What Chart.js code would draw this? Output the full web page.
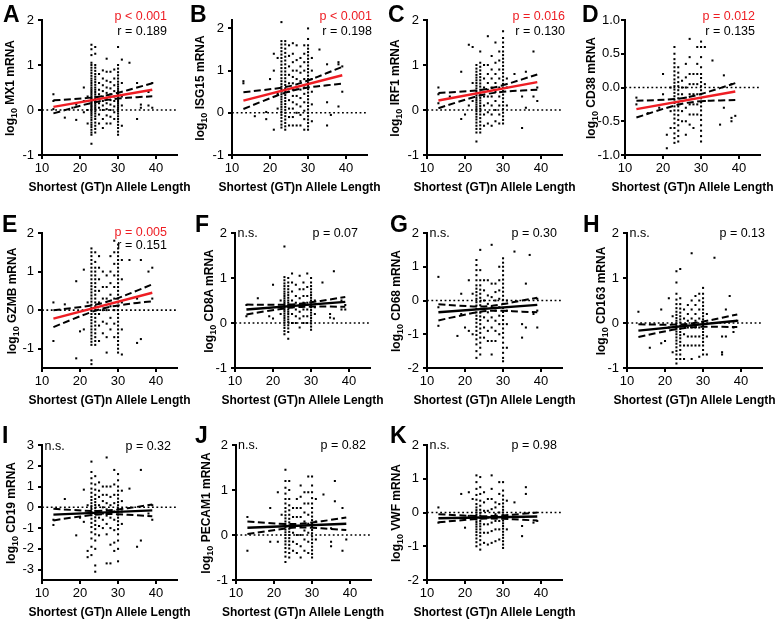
<!DOCTYPE html>
<html><head><meta charset="utf-8">
<script src="https://cdn.jsdelivr.net/npm/chart.js@4"></script>
<style>
html,body{margin:0;padding:0;background:#fff}
body{width:778px;height:621px;position:relative;overflow:hidden;font-family:"Liberation Sans",Arial,sans-serif;color:#000}
.t{position:absolute;white-space:nowrap;line-height:1}
</style></head><body>
<script>
// ---------- DATA ----------
const panelIds = ['A','B','C','D','E','F','G','H','I','J','K'];
const genes = ['MX1','ISG15','IRF1','CD38','GZMB','CD8A','CD68','CD163','CD19','PECAM1','VWF'];
const pLabels = ['p < 0.001','p < 0.001','p = 0.016','p = 0.012','p = 0.005','p = 0.07','p = 0.30','p = 0.13','p = 0.32','p = 0.82','p = 0.98'];
const rLabels = ['r = 0.189','r = 0.198','r = 0.130','r = 0.135','r = 0.151',null,null,null,null,null,null];
const xTicks = [10,20,30,40];
const yRanges = [[-1,2],[-1,2.2],[-1,2],[-1,1],[-1.5,2],[-1,2],[-2,2],[-1,2],[-3.5,3],[-1,2],[-2,2]];
const yTickVals = [[-1,0,1,2],[-1,0,1,2],[-1,0,1,2],[-1,-0.5,0,0.5,1],[-1,0,1,2],[-1,0,1,2],[-2,-1,0,1,2],[-1,0,1,2],[-3,-2,-1,0,1,2,3],[-1,0,1,2],[-2,-1,0,1,2]];

// regression line ends (x = 13 and 39) and 95% CI bands
const fitX = [13,39];
const ciX = [13,18,23,26,30,35,39];
const fitA=[0.07,0.45],  upA=[0.215,0.241,0.275,0.31,0.383,0.499,0.595],   loA=[-0.075,0.045,0.157,0.21,0.253,0.285,0.305];
const fitB=[0.29,0.89],  upB=[0.49,0.537,0.595,0.65,0.766,0.943,1.09],     loB=[0.09,0.273,0.447,0.53,0.598,0.653,0.69];
const fitC=[0.21,0.62],  upC=[0.38,0.402,0.434,0.47,0.552,0.681,0.79],     loC=[0.04,0.176,0.302,0.36,0.404,0.433,0.45];
const fitD=[-0.32,-0.06],upD=[-0.195,-0.187,-0.172,-0.15,-0.096,-0.009,0.065], loD=[-0.445,-0.353,-0.268,-0.23,-0.204,-0.191,-0.185];
const fitE=[-0.22,0.45], upE=[0.0,0.055,0.123,0.185,0.313,0.507,0.67],     loE=[-0.44,-0.237,-0.047,0.045,0.123,0.187,0.23];
const fitF=[0.30,0.47],  upF=[0.41,0.406,0.408,0.42,0.459,0.524,0.58],     loF=[0.19,0.26,0.323,0.35,0.364,0.364,0.36];
const fitG=[-0.35,-0.13],upG=[-0.11,-0.15,-0.177,-0.17,-0.107,0.0,0.08],   loG=[-0.59,-0.466,-0.353,-0.31,-0.306,-0.33,-0.35];
const fitH=[-0.17,0.05], upH=[-0.03,-0.036,-0.034,-0.02,0.032,0.117,0.19], loH=[-0.31,-0.22,-0.136,-0.10,-0.084,-0.085,-0.09];
const fitI=[-0.35,-0.15],upI=[-0.07,-0.128,-0.172,-0.17,-0.104,0.021,0.13],loI=[-0.63,-0.496,-0.374,-0.33,-0.334,-0.383,-0.43];
const fitJ=[0.16,0.25],  upJ=[0.30,0.269,0.246,0.245,0.277,0.337,0.39],    loJ=[0.02,0.085,0.144,0.165,0.162,0.135,0.11];
const fitK=[-0.17,-0.12],upK=[-0.05,-0.081,-0.107,-0.11,-0.087,-0.04,0.0], loK=[-0.29,-0.239,-0.195,-0.18,-0.187,-0.214,-0.24];

// scatter points: [allele length, [log10 mRNA values ...]]
const ptsA = [
 [13,[0.35,0.2,0.02]],[16,[-0.17]],[18,[0.05]],[19,[0.12,-0.22]],[21,[0.5,0.2,-0.05]],[22,[0.3,0.0,-0.3]],
 [23,[-0.75,-0.55,-0.5,-0.44,-0.38,-0.33,-0.28,-0.22,-0.17,-0.12,-0.08,-0.04,0,0.03,0.06,0.09,0.12,0.15,0.18,0.21,0.24,0.27,0.3,0.34,0.38,0.42,0.46,0.5,0.55,0.6,0.65,0.7,0.76,0.82,0.88,0.94,1.0,1.05,1.22,1.35,1.45]],
 [24,[-0.5,-0.42,-0.35,-0.28,-0.2,-0.14,-0.08,-0.03,0.02,0.06,0.1,0.14,0.18,0.22,0.26,0.3,0.35,0.4,0.45,0.5,0.56,0.62,0.68,0.74,0.8,0.87,0.94,1.0,1.25,1.4]],
 [25,[-0.3,-0.1,0.05,0.15,0.25,0.35,0.45,0.6,0.8]],
 [26,[-0.4,-0.2,0,0.1,0.2,0.3,0.42,0.55,0.7,0.88]],
 [27,[-0.3,-0.12,0.02,0.15,0.25,0.38,0.5,0.65,0.85,1.14]],
 [28,[-0.3,-0.15,0,0.12,0.22,0.35,0.48,0.62,0.85]],
 [29,[-0.2,-0.05,0.08,0.2,0.3,0.42,0.55,0.7,0.9]],
 [30,[-0.55,-0.48,-0.4,-0.33,-0.26,-0.2,-0.14,-0.08,-0.03,0.02,0.06,0.1,0.14,0.18,0.22,0.26,0.3,0.34,0.38,0.42,0.47,0.52,0.57,0.63,0.7,0.77,0.84,0.92,1.0,1.4]],
 [31,[-0.35,0.1,0.3,0.6,1.12]],[33,[1.05]],[35,[-0.2,0.6]],[36,[0.05,0.12]],[38,[0.4,0.1]],[39,[0.6,0.05]]
];
const ptsB = [
 [13,[0.75,0.7]],[16,[-0.08]],[19,[-0.15,0.02]],[20,[0.8]],[21,[1.4,1.0,-0.4]],[22,[1.3,0.1,0.45]],
 [23,[-0.35,-0.28,-0.2,-0.12,-0.05,0.02,0.08,0.14,0.2,0.26,0.32,0.38,0.44,0.5,0.56,0.62,0.68,0.75,0.82,0.9,0.98,1.06,1.14,1.22,1.3,1.38,1.46,1.54,1.62,1.7,2.15]],
 [24,[-0.4,-0.32,-0.24,-0.16,-0.08,0,0.07,0.14,0.21,0.28,0.35,0.42,0.5,0.58,0.66,0.74,0.82,0.9,0.98,1.06,1.15,1.24,1.33,1.42,1.52,1.62,1.7]],
 [25,[-0.3,-0.1,0.1,0.3,0.5,0.7,0.9,1.1,1.35,1.6]],
 [26,[-0.3,-0.1,0.1,0.25,0.4,0.55,0.7,0.85,1.0,1.2,1.4,1.65]],
 [27,[-0.3,0,0.2,0.4,0.6,0.8,1.0,1.25,1.6]],
 [28,[-0.3,-0.05,0.15,0.35,0.55,0.75,0.95,1.1,1.3]],
 [29,[-0.4,-0.15,0.05,0.25,0.45,0.6,0.8,1.0,1.2,1.4,1.6]],
 [30,[-0.4,-0.32,-0.24,-0.16,-0.08,0,0.08,0.16,0.24,0.32,0.4,0.48,0.56,0.64,0.72,0.8,0.88,0.96,1.04,1.12,1.2,1.28,1.36,1.44,1.52,1.6,1.75,2.0]],
 [31,[-0.2,0.2,0.5,0.8,1.0,1.3]],[33,[1.5]],[35,[1.15,0.25,-0.3]],[36,[-0.05]],[38,[0.15,1.2,1.15]],[39,[0.5,1.1]]
];
const ptsC = [
 [13,[0.5,0.35,0.15]],[16,[0.3]],[19,[0.85,-0.2]],[20,[-0.1]],[21,[1.45,0.1]],[22,[1.4,0.6,0.2]],
 [23,[-0.7,-0.5,-0.42,-0.35,-0.28,-0.21,-0.15,-0.09,-0.03,0.02,0.07,0.12,0.17,0.22,0.27,0.32,0.37,0.42,0.48,0.54,0.6,0.66,0.72,0.78,0.85,0.92,1.0]],
 [24,[-0.5,-0.42,-0.34,-0.26,-0.18,-0.1,-0.03,0.03,0.09,0.15,0.21,0.27,0.33,0.39,0.45,0.52,0.59,0.66,0.73,0.8,0.88,0.96,1.05,1.3]],
 [25,[-0.35,-0.1,0.1,0.3,0.5,0.7,1.0]],
 [26,[-0.3,-0.05,0.15,0.3,0.45,0.6,0.8,1.0,1.64]],
 [27,[-0.35,-0.1,0.1,0.3,0.5,0.7,0.9,1.2]],
 [28,[-0.25,0,0.2,0.4,0.6,0.8,1.05,1.5]],
 [29,[-0.3,-0.1,0.1,0.3,0.5,0.7,0.9,1.1,1.3]],
 [30,[-0.3,-0.22,-0.14,-0.06,0.02,0.1,0.18,0.26,0.34,0.42,0.5,0.58,0.66,0.74,0.82,0.9,0.98,1.06,1.14,1.22,1.3,1.4,1.5,1.6,1.75]],
 [31,[0.5,0.7,0.1]],[33,[0.8]],[35,[-0.4,0.3]],[36,[0.05,0.85]],[38,[1.3,0.3]],[39,[0.2,0.5]]
];
const ptsD = [
 [13,[-0.15,-0.25]],[16,[-0.38]],[19,[-0.3]],[20,[0.2,-0.1]],[21,[-0.9,-0.7]],[22,[-0.6,0.0,-0.35]],
 [23,[-0.82,-0.75,-0.68,-0.6,-0.53,-0.46,-0.4,-0.34,-0.28,-0.23,-0.18,-0.13,-0.08,-0.03,0.02,0.07,0.12,0.18,0.24,0.3,0.36,0.42,0.5,0.6]],
 [24,[-0.8,-0.72,-0.64,-0.56,-0.48,-0.41,-0.34,-0.28,-0.22,-0.16,-0.1,-0.04,0.02,0.08,0.15,0.22,0.3]],
 [25,[-0.5,-0.35,-0.2,-0.1,0,0.1]],
 [26,[-0.7,-0.5,-0.3,-0.15,0,0.15,0.35]],
 [27,[-0.55,-0.4,-0.25,-0.1,0.05,0.2,0.45,0.72]],
 [28,[-0.6,-0.4,-0.25,-0.1,0.05,0.2]],
 [29,[-0.4,-0.25,-0.1,0.05,0.2,0.35,0.6]],
 [30,[-0.8,-0.72,-0.64,-0.56,-0.48,-0.41,-0.34,-0.28,-0.22,-0.16,-0.1,-0.04,0.02,0.08,0.14,0.2,0.3,0.45,0.6,0.68]],
 [31,[0.6,-0.2,0.05]],[33,[0.4]],[35,[-0.55]],[36,[-0.3,0.18]],[38,[-0.5,-0.45,0.05]],[39,[-0.42]]
];
const ptsE = [
 [13,[-0.8,0.2]],[16,[0.15]],[19,[0.75,-1.25]],[20,[-0.55]],[21,[1.05,-0.5]],[22,[0.2]],
 [23,[-1.4,-1.3,-0.9,-0.82,-0.74,-0.66,-0.58,-0.5,-0.42,-0.34,-0.26,-0.18,-0.1,-0.02,0.06,0.14,0.22,0.3,0.38,0.46,0.54,0.62,0.7,0.8,0.9,1.0,1.1,1.2,1.3,1.4,1.5,1.6]],
 [24,[-0.9,-0.8,-0.7,-0.6,-0.5,-0.4,-0.3,-0.2,-0.1,0,0.1,0.2,0.3,0.4,0.5,0.6,0.7,0.8,0.9,1.0,1.1,1.25,1.5]],
 [25,[-0.8,-0.4,-0.1,0.2,0.5,0.8,1.1,1.4]],
 [26,[-0.6,-0.3,0,0.3,0.6,1.0]],
 [27,[-1.1,-0.7,-0.35,0,0.3,0.6,0.9]],
 [28,[-0.5,-0.2,0.1,0.4,0.7,1.0,1.4]],
 [29,[-0.7,-0.35,0,0.3,0.6,0.9,1.2,1.5,1.8]],
 [30,[-1.1,-1.0,-0.9,-0.8,-0.7,-0.6,-0.5,-0.4,-0.3,-0.2,-0.1,0,0.1,0.2,0.3,0.4,0.5,0.6,0.7,0.8,0.9,1.0,1.1,1.2,1.3,1.4,1.5,1.6,1.7]],
 [31,[-1.15,-0.5,0.2,0.8,1.3]],[33,[1.3]],[35,[-0.85,0.3]],[36,[1.3,-0.75]],[38,[1.0]],[39,[1.1,0.3]]
];
const ptsF = [
 [13,[0.15,0.4]],[16,[0.55]],[19,[0.15]],[20,[0.85,0.1]],[22,[0.5,0.2]],
 [23,[-0.25,-0.18,-0.11,-0.05,0.01,0.06,0.11,0.16,0.21,0.26,0.3,0.34,0.38,0.42,0.46,0.5,0.55,0.6,0.65,0.7,0.76,0.82,0.88,0.95,1.02,1.7]],
 [24,[-0.35,-0.2,-0.12,-0.05,0.02,0.08,0.14,0.2,0.25,0.3,0.35,0.4,0.45,0.5,0.56,0.62,0.68,0.75,0.82,0.9,1.0]],
 [25,[0,0.2,0.35,0.5,0.7,0.9,1.1]],
 [26,[0,0.15,0.3,0.45,0.6,0.85]],
 [27,[-0.1,0.1,0.25,0.4,0.55,0.75,1.05]],
 [28,[0,0.15,0.3,0.45,0.6,0.75,0.9]],
 [29,[0,0.15,0.3,0.45,0.6,0.8,1.1]],
 [30,[-0.15,-0.08,-0.01,0.05,0.11,0.17,0.23,0.29,0.35,0.4,0.45,0.5,0.56,0.62,0.68,0.75,0.82,0.9,1.0]],
 [31,[0.2,0.35,0.5]],[33,[0.9]],[35,[0.2,0.12]],[36,[1.15,0.1]],[38,[0.3,0.5]],[39,[0.4,0.3]]
];
const ptsG = [
 [13,[0.7,-0.75,-0.2]],[18,[-1.05]],[19,[0.2,-0.4]],[20,[-0.8]],[21,[-0.9,0.6]],[22,[-1.0,0.2]],
 [23,[-1.7,-1.5,-1.3,-1.15,-1.02,-0.9,-0.78,-0.66,-0.55,-0.45,-0.35,-0.25,-0.15,-0.05,0.05,0.15,0.25,0.35,0.45,0.6,0.75,0.9,1.05,1.2]],
 [24,[-1.6,-1.4,-1.25,-1.1,-0.96,-0.83,-0.7,-0.58,-0.47,-0.36,-0.25,-0.14,-0.03,0.08,0.2,0.32,0.45,0.6,0.9,1.5]],
 [25,[-1.1,-0.8,-0.5,-0.25,0,0.3,0.6]],
 [26,[-1.2,-0.9,-0.6,-0.35,-0.1,0.15,0.6]],
 [27,[-1.6,-1.2,-0.8,-0.5,-0.2,0.1,0.5,1.65]],
 [28,[-1.2,-0.9,-0.6,-0.3,0,0.25,0.5]],
 [29,[-1.0,-0.7,-0.45,-0.2,0.05,0.3,0.6,1.0]],
 [30,[-1.8,-1.7,-1.55,-1.4,-1.25,-1.1,-0.96,-0.83,-0.7,-0.58,-0.46,-0.34,-0.22,-0.1,0.02,0.14,0.26,0.38,0.5,0.62,0.75,0.88,1.0,1.12,1.25]],
 [31,[-1.4,-0.7,-0.3,0]],[33,[1.45]],[35,[-0.7,-1.1]],[36,[0.5,-0.8]],[37,[1.35]],[38,[-0.4]],[39,[-0.8,-0.3,0.05]]
];
const ptsH = [
 [13,[0.25]],[16,[-0.55]],[19,[0.3,-0.45]],[20,[-0.4]],[21,[-0.1,0.55]],[22,[0.15,-0.65]],
 [23,[-1.0,-0.9,-0.8,-0.7,-0.62,-0.54,-0.46,-0.39,-0.32,-0.25,-0.19,-0.13,-0.07,-0.01,0.05,0.11,0.18,0.25,0.33,0.42,0.52,0.65,0.9,1.15]],
 [24,[-0.8,-0.7,-0.6,-0.5,-0.42,-0.34,-0.27,-0.2,-0.13,-0.06,0.01,0.08,0.15,0.23,0.32,0.42,0.55,1.2]],
 [25,[-0.8,-0.5,-0.25,-0.05,0.1,0.3]],
 [26,[-0.5,-0.3,-0.1,0.05,0.2,0.4]],
 [27,[-0.8,-0.5,-0.3,-0.1,0.1,0.3,0.5,1.55]],
 [28,[-0.5,-0.3,-0.1,0.05,0.2,0.4,0.6]],
 [29,[-0.75,-0.5,-0.3,-0.1,0.1,0.3,0.5,0.65]],
 [30,[-0.7,-0.6,-0.5,-0.42,-0.34,-0.27,-0.2,-0.13,-0.06,0.01,0.08,0.15,0.22,0.3,0.38,0.46,0.55,0.65,0.78]],
 [31,[-0.7,-0.3,0.2]],[33,[1.45]],[35,[-0.65,-0.7,-0.3]],[36,[0.3,-0.3]],[37,[0.6]],[38,[-0.1,-0.2]],[39,[0.05]]
];
const ptsI = [
 [13,[-0.85,-0.6]],[16,[0.4]],[19,[-1.35]],[20,[-0.5]],[21,[0.85,-0.7]],[22,[-2.4,-2.1,0.1]],
 [23,[-2.3,-1.9,-1.5,-1.2,-0.95,-0.75,-0.55,-0.38,-0.22,-0.08,0.06,0.2,0.35,0.5,0.7,0.9,1.15,1.4,1.7,2.2]],
 [24,[-3.1,-2.8,-2.0,-1.6,-1.3,-1.05,-0.85,-0.65,-0.48,-0.32,-0.17,-0.03,0.11,0.25,0.4,0.6,0.85,1.1,1.5]],
 [25,[-1.35,-0.9,-0.5,-0.2,0.1,0.5,0.8,1.2]],
 [26,[-1.0,-0.6,-0.3,0,0.3,0.6,1.0]],
 [27,[-2.7,-1.3,-0.8,-0.4,-0.1,0.2,0.6,1.0,2.4]],
 [28,[-2.7,-1.8,-1.0,-0.5,-0.2,0.1,0.5,1.0]],
 [29,[-2.1,-1.7,-1.1,-0.6,-0.2,0.2,0.6,1.1,1.8]],
 [30,[-2.6,-2.0,-1.6,-1.3,-1.05,-0.85,-0.67,-0.5,-0.35,-0.2,-0.05,0.1,0.25,0.42,0.6,0.8,1.0,1.3,1.6]],
 [31,[-0.8,-0.2,0.3,0.8]],[33,[0.9]],[35,[-1.9]],[36,[-1.6,1.8]],[38,[-0.3]],[39,[-0.6,0.1]]
];
const ptsJ = [
 [13,[0.4,-0.35]],[19,[0.6,-0.15]],[21,[0.95,-0.15]],[22,[0.45]],
 [23,[-0.6,-0.48,-0.38,-0.29,-0.21,-0.14,-0.07,0,0.06,0.12,0.18,0.24,0.3,0.37,0.44,0.52,0.6,0.7,0.8,0.92,1.05,1.2,1.45]],
 [24,[-0.5,-0.4,-0.3,-0.22,-0.14,-0.07,0,0.07,0.14,0.21,0.28,0.36,0.45,0.55,0.66,0.8,1.0,1.2]],
 [25,[-0.35,-0.15,0.05,0.2,0.4,0.6]],
 [26,[-0.4,-0.2,0,0.2,0.4,0.6,0.8]],
 [27,[-0.5,-0.25,0,0.2,0.4,0.6,0.85,1.1]],
 [28,[-0.35,-0.1,0.1,0.3,0.5,0.7,0.95]],
 [29,[-0.4,-0.15,0.05,0.25,0.45,0.7,0.95,1.3]],
 [30,[-0.5,-0.42,-0.34,-0.26,-0.18,-0.1,-0.03,0.04,0.11,0.18,0.25,0.33,0.41,0.5,0.6,0.7,0.82,0.95,1.1,1.3]],
 [31,[-0.1,0.3,0.8]],[33,[0.9]],[35,[-0.25,-0.15,0.15]],[36,[1.2,0.75]],[38,[0.6,-0.35]],[39,[-0.1]]
];
const ptsK = [
 [13,[0.15,-0.3]],[19,[0.55]],[20,[-0.45]],[21,[-0.1,0.6]],[22,[0.4]],
 [23,[-1.0,-0.88,-0.77,-0.67,-0.58,-0.5,-0.42,-0.35,-0.28,-0.21,-0.14,-0.07,0,0.07,0.15,0.25,0.38,0.52,0.7,0.9,1.1]],
 [24,[-1.1,-0.95,-0.82,-0.7,-0.6,-0.5,-0.41,-0.33,-0.25,-0.17,-0.09,-0.01,0.08,0.2,0.35,0.55,0.75,1.05]],
 [25,[-0.9,-0.6,-0.35,-0.15,0.05,0.3,0.6]],
 [26,[-0.95,-0.6,-0.35,-0.15,0.05,0.4]],
 [27,[-0.9,-0.55,-0.3,-0.1,0.1,0.4,0.7,1.1]],
 [28,[-0.85,-0.5,-0.25,-0.05,0.15,0.3]],
 [29,[-0.8,-0.5,-0.25,0,0.25,0.55,0.9]],
 [30,[-1.05,-0.95,-0.85,-0.75,-0.66,-0.57,-0.48,-0.4,-0.32,-0.24,-0.16,-0.08,0,0.08,0.17,0.27,0.38,0.5,0.65,0.9]],
 [31,[-0.5,-0.1,0.35]],[33,[0.3]],[35,[-0.7,-0.4]],[36,[0.75,0.55]],[38,[-0.3]],[39,[-0.25]]
];

const allPts = [ptsA,ptsB,ptsC,ptsD,ptsE,ptsF,ptsG,ptsH,ptsI,ptsJ,ptsK];
const allFit = [fitA,fitB,fitC,fitD,fitE,fitF,fitG,fitH,fitI,fitJ,fitK];
const allUp  = [upA,upB,upC,upD,upE,upF,upG,upH,upI,upJ,upK];
const allLo  = [loA,loB,loC,loD,loE,loF,loG,loH,loI,loJ,loK];

// ---------- LAYOUT (positions only) ----------
const XMIN = 10, XMAX = 45.5, PLOTW = 135;
const rows = [{top:20,bot:155,xt:187,ly:13.5},{top:233,bot:368,xt:400,ly:223.5},{top:445,bot:580,xt:612,ly:434.5}];
const pos = [
 {row:0, ax:42,   tx:11,  lx:3,   ar:167, py:15.7, ry:31, tp:4},
 {row:0, ax:232,  tx:201, lx:190, ar:372, py:15.7, ry:31, tp:4},
 {row:0, ax:427,  tx:396, lx:388, ar:565, py:15.7, ry:31, tp:4},
 {row:0, ax:625,  tx:592, lx:582, ar:755, py:15.7, ry:31, tp:1},
 {row:1, ax:42,   tx:13,  lx:2,   ar:167, py:231.7, ry:245, tp:4},
 {row:1, ax:235,  tx:210, lx:195, ar:358, py:233, tp:4},
 {row:1, ax:427,  tx:397, lx:390, ar:557, py:233, tp:4},
 {row:1, ax:627,  tx:602, lx:583, ar:765, py:233, tp:4},
 {row:2, ax:42,   tx:12,  lx:2,   ar:171, py:446, tp:4},
 {row:2, ax:235.5,tx:207, lx:195, ar:366, py:445, tp:4},
 {row:2, ax:427,  tx:397, lx:390, ar:557, py:445, tp:4}
];
const RED = '#ee1d23';
const FONT = '"Liberation Sans", Arial, sans-serif';

Chart.defaults.font.family = FONT;
Chart.defaults.color = '#000';
Chart.defaults.animation = false;

function addText(html, x, y, css, tf) {
  const d = document.createElement('div');
  d.className = 't';
  d.innerHTML = html;
  d.style.cssText += `left:${x}px;top:${y}px;transform:${tf};` + css;
  document.body.appendChild(d);
}

const Lm = 44, Tm = 14, Rm = 10, Bm = 30;

panelIds.forEach((id, i) => {
  const p = pos[i], r = rows[p.row];
  const plotH = r.bot - r.top;
  const w = Lm + PLOTW + Rm, h = Tm + plotH + Bm;
  const cv = document.createElement('canvas');
  cv.width = w; cv.height = h;
  cv.style.cssText = `position:absolute;left:${p.ax - Lm}px;top:${r.top - Tm}px;width:${w}px;height:${h}px`;
  document.body.appendChild(cv);

  const scatter = [];
  allPts[i].forEach(([x, ys]) => ys.forEach(y => scatter.push({x, y})));
  const isSig = rLabels[i] !== null;
  const dec = yTickVals[i].some(v => !Number.isInteger(v));
  const yt = yTickVals[i];

  new Chart(cv, {
    type: 'scatter',
    data: { datasets: [
      { type:'line', data: fitX.map((x,k)=>({x, y: allFit[i][k]})), borderColor: isSig ? RED : '#000', borderWidth: 2.4, pointRadius: 0, order: 0 },
      { type:'line', data: ciX.map((x,k)=>({x, y: allUp[i][k]})), borderColor:'#000', borderWidth: 2, borderDash:[7,3.5], pointRadius: 0, tension: 0.35, order: 1 },
      { type:'line', data: ciX.map((x,k)=>({x, y: allLo[i][k]})), borderColor:'#000', borderWidth: 2, borderDash:[7,3.5], pointRadius: 0, tension: 0.35, order: 1 },
      { type:'scatter', data: scatter, pointStyle:'rect', pointRadius: 1.45, backgroundColor:'#000', borderWidth: 0, order: 2 },
      { type:'line', data: [{x:XMIN,y:0},{x:XMAX,y:0}], borderColor:'#000', borderWidth: 1.6, borderDash:[1.8,2.6], pointRadius: 0, order: 3 }
    ]},
    options: {
      responsive: false,
      animation: false,
      layout: { padding: { top: Tm, right: Rm, left: 0, bottom: 0 } },
      plugins: { legend: { display: false }, tooltip: { enabled: false } },
      scales: {
        x: {
          type: 'linear', position: 'bottom', min: XMIN, max: XMAX,
          afterBuildTicks: s => { s.ticks = xTicks.map(v => ({value: v})); },
          afterFit: s => { s.height = Bm; },
          ticks: { font: { size: 13 }, padding: 2, maxRotation: 0, autoSkip: false, color: '#000' },
          grid: { drawOnChartArea: false, drawTicks: true, tickLength: 4, color: '#000', lineWidth: 2 },
          border: { display: true, color: '#000', width: 2 }
        },
        y: {
          type: 'linear', min: yRanges[i][0], max: yRanges[i][1],
          afterBuildTicks: s => { s.ticks = yt.map(v => ({value: v})); },
          afterFit: s => { s.width = Lm; },
          ticks: { font: { size: 13 }, padding: p.tp, autoSkip: false, color: '#000',
                   callback: v => dec ? Number(v).toFixed(1) : String(v) },
          grid: { drawOnChartArea: false, drawTicks: true, tickLength: 4, color: '#000', lineWidth: 2 },
          border: { display: true, color: '#000', width: 2 }
        }
      }
    }
  });

  // panel letter
  addText(id, p.lx, r.ly, `font:bold 23px ${FONT};`, 'translate(0,-50%)');
  // y title
  addText(`log<sub style="font-size:9px;vertical-align:-3px">10</sub> ${genes[i]} mRNA`, p.tx, (r.top + r.bot) / 2,
          `font:bold 12px ${FONT};`, 'translate(-50%,-50%) rotate(-90deg)');
  // x title
  addText('Shortest (GT)n Allele Length', p.ax + PLOTW / 2, r.xt, `font:bold 12px ${FONT};`, 'translate(-50%,-50%)');
  // annotations
  if (isSig) {
    addText(pLabels[i], p.ar, p.py, `font:12.5px ${FONT};color:${RED};`, 'translate(-100%,-50%)');
    addText(rLabels[i], p.ar, p.ry, `font:12.5px ${FONT};`, 'translate(-100%,-50%)');
  } else {
    addText('n.s.', p.ax + 2.5, p.py, `font:12.5px ${FONT};`, 'translate(0,-50%)');
    addText(pLabels[i], p.ar, p.py, `font:12.5px ${FONT};`, 'translate(-100%,-50%)');
  }
});
</script>
</body></html>
